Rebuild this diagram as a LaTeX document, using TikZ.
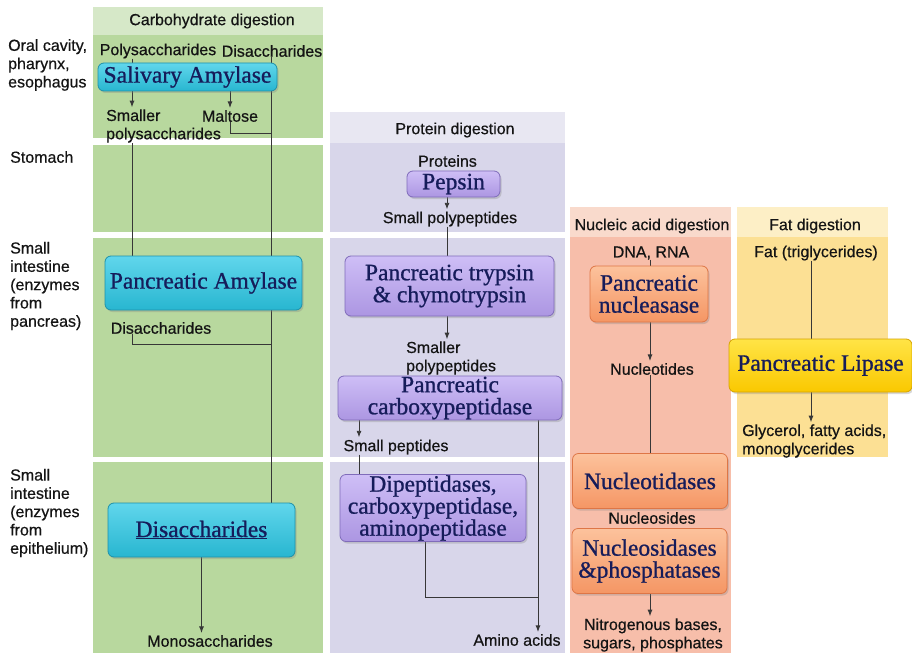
\documentclass[tikz,border=0pt]{standalone}
\usepackage{fontspec}
\setmainfont{Liberation Serif}
\setsansfont{Liberation Sans}[FakeBold=0.5]
\newfontfamily\enzfont{Liberation Serif}[FakeBold=0.9]
\usetikzlibrary{arrows.meta,positioning,calc,shadows}
\pgfdeclarelayer{bg}
\pgfdeclarelayer{ln}
\pgfsetlayers{bg,ln,main}
\definecolor{carbHd}{RGB}{214,232,200}
\definecolor{carbBd}{RGB}{184,216,158}
\definecolor{protHd}{RGB}{232,231,242}
\definecolor{protBd}{RGB}{216,214,234}
\definecolor{nuclHd}{RGB}{249,218,204}
\definecolor{nuclBd}{RGB}{247,190,170}
\definecolor{fatHd}{RGB}{253,239,198}
\definecolor{fatBd}{RGB}{252,224,148}
\definecolor{cyTop}{RGB}{96,214,236}
\definecolor{cyBot}{RGB}{40,182,208}
\definecolor{cyLn}{RGB}{30,145,170}
\definecolor{puTop}{RGB}{206,190,246}
\definecolor{puBot}{RGB}{172,150,226}
\definecolor{puLn}{RGB}{128,108,186}
\definecolor{orTop}{RGB}{252,194,156}
\definecolor{orBot}{RGB}{245,150,100}
\definecolor{orLn}{RGB}{222,118,70}
\definecolor{yeTop}{RGB}{255,228,70}
\definecolor{yeBot}{RGB}{250,200,0}
\definecolor{yeLn}{RGB}{214,164,0}
\definecolor{enzTxt}{RGB}{22,28,90}
\definecolor{lblTxt}{RGB}{20,20,20}
\definecolor{lnc}{RGB}{55,55,55}

\begin{document}
\begin{tikzpicture}[x=1pt,y=-1pt,
			lbl/.style={font=\sffamily\fontsize{16}{18.3}\selectfont,text=lblTxt,inner sep=0pt},
			enz/.style={rounded corners=6pt,line width=0.8pt,align=center,inner sep=0pt,
				font=\enzfont\fontsize{23.5}{22}\selectfont,text=enzTxt,
				drop shadow={shadow xshift=1.5pt,shadow yshift=-2pt,opacity=0.3}},
			carbenz/.style={enz,draw=cyLn,top color=cyTop,bottom color=cyBot},
			protenz/.style={enz,draw=puLn,top color=puTop,bottom color=puBot},
			nuclenz/.style={enz,draw=orLn,top color=orTop,bottom color=orBot},
			fatenz/.style={enz,draw=yeLn,top color=yeTop,bottom color=yeBot},
			flow/.style={draw=lnc,line width=0.9pt},
			flowto/.style={flow,-{Latex[length=6.5pt,width=5pt]},shorten >=2pt}]
		\useasboundingbox (0,0) rectangle (912,655);
		\begin{pgfonlayer}{bg}
			\fill [white] (0,0) rectangle (912,655);
			\fill [carbHd] (93,7) rectangle (323,35);
			\foreach \ya/\yb in {35/138,145/232,238/457,462/653}
				\fill [carbBd] (93,\ya) rectangle (323,\yb);
			\fill [protHd] (330,112) rectangle (565,143);
			\foreach \ya/\yb in {143/232,238/457,462/653}
				\fill [protBd] (330,\ya) rectangle (565,\yb);
			\fill [nuclHd] (570,207) rectangle (731,237);
			\fill [nuclBd] (570,237) rectangle (731,653);
			\fill [fatHd] (737,207) rectangle (888,237);
			\fill [fatBd] (737,237) rectangle (888,457);
		\end{pgfonlayer}
		\path 	(8,65) 	node 	(oral) [lbl, anchor=west, align=left] {Oral cavity,\\pharynx,\\esophagus}
		        (10,157) node 	(stom) [lbl, anchor=west] {Stomach}
		        (10,286) node 	(sipan) [lbl, anchor=west, align=left] {Small\\intestine\\(enzymes\\from\\pancreas)}
		        (10,513) node 	(siepi) [lbl, anchor=west, align=left] {Small\\intestine\\(enzymes\\from\\epithelium)};
		\path 	(212,21) 	node 	(chead) [lbl] {Carbohydrate digestion}
		        (158,51) 	node 	(poly) [lbl] {Polysaccharides}
		        (272,51) 	node 	(disT) [lbl] {Disaccharides}
		        (187.5,77) node 	(sal) [carbenz, minimum width=179pt, minimum height=28pt] {Salivary Amylase}
		        (106,126) 	node 	(smpoly) [lbl, anchor=west, align=left] {Smaller\\polysaccharides}
		        (230,116) 	node 	(malt) [lbl] {Maltose}
		        (203.5,283) node 	(pamy) [carbenz, minimum width=197pt, minimum height=54pt] {Pancreatic Amylase}
		        (161,328) 	node 	(dis2) [lbl] {Disaccharides}
		        (201.5,530) node 	(dbox) [carbenz, minimum width=187pt, minimum height=54pt] {\underline{Disaccharides}}
		        (210,641) 	node 	(mono) [lbl] {Monosaccharides};
		\path 	(455,130) 	node 	(phead) [lbl] {Protein digestion}
		        (447.5,161) node 	(prot) [lbl] {Proteins}
		        (453.5,184) node 	(pepsin) [protenz, minimum width=93pt, minimum height=26pt] {Pepsin}
		        (450,219) 	node 	(smpp) [lbl] {Small polypeptides}
		        (449.5,286) node 	(tryp) [protenz, minimum width=209pt, minimum height=60pt] {Pancreatic trypsin\\\& chymotrypsin}
		        (406,358) 	node 	(smpp2) [lbl, anchor=west, align=left] {Smaller\\polypeptides}
		        (450,398) 	node 	(carbx) [protenz, minimum width=224pt, minimum height=44pt] {Pancreatic\\carboxypeptidase}
		        (396,447) 	node 	(smpep) [lbl] {Small peptides}
		        (433,508) 	node 	(dipep) [protenz, minimum width=186pt, minimum height=67pt] {Dipeptidases,\\carboxypeptidase,\\aminopeptidase}
		        (517,640) 	node 	(amino) [lbl] {Amino acids};
		\path 	(652,226) 	node 	(nhead) [lbl] {Nucleic acid digestion}
		        (651,253) 	node 	(dna) [lbl] {DNA, RNA}
		        (649,294) 	node 	(nucl) [nuclenz, minimum width=118pt, minimum height=56pt] {Pancreatic\\nucleasase}
		        (652,369) 	node 	(ntides) [lbl] {Nucleotides}
		        (650,481) 	node 	(ntase) [nuclenz, minimum width=155pt, minimum height=55pt] {Nucleotidases}
		        (652,518) 	node 	(nsides) [lbl] {Nucleosides}
		        (649.5,561) node 	(nsase) [nuclenz, minimum width=155pt, minimum height=65pt] {Nucleosidases\\\&phosphatases}
		        (653,635) 	node 	(nitro) [lbl, align=center] {Nitrogenous bases,\\sugars, phosphates};
		\path 	(815,226) 	node 	(fhead) [lbl] {Fat digestion}
		        (816,253) 	node 	(fat) [lbl] {Fat (triglycerides)}
		        (820.5,365.5) node 	(lip) [fatenz, minimum width=183pt, minimum height=53pt] {Pancreatic Lipase}
		        (742,441) 	node 	(glyc) [lbl, anchor=west, align=left] {Glycerol, fatty acids,\\monoglycerides};
		\coordinate (cl) at (132,0);
		\coordinate (cr) at (271,0);
		\coordinate (pc) at (447,0);
		\coordinate (pl) at (359,0);
		\coordinate (pm) at (425,0);
		\coordinate (pr) at (538,0);
		\coordinate (nc) at (650,0);
		\coordinate (fc) at (811,0);
		\begin{pgfonlayer}{ln}
			\draw [flowto] (poly.south -| cl) -- (smpoly.north -| cl);
			\draw [flowto] (sal.south -| malt) -- (malt.north);
			\draw [flow] (disT.south -| cr) -- (dbox.north -| cr);
			\draw [flow] (malt.south) |- (cr |- 0,133);
			\draw [flow] (smpoly.south -| cl) -- (pamy.north -| cl);
			\draw [flow] (dis2.south -| cl) |- (cr |- 0,344);
			\draw [flowto] (dbox.south) -- (dbox.south |- mono.north);
			\draw [flowto] (pepsin.south -| pc) -- (smpp.north -| pc);
			\draw [flow] (smpp.south -| pc) -- (tryp.north -| pc);
			\draw [flowto] (tryp.south -| pc) -- (smpp2.north -| pc);
			\draw [flowto] (carbx.south -| pl) -- (smpep.north -| pl);
			\draw [flow] (smpep.south -| pl) -- (dipep.north -| pl);
			\draw [flowto] (carbx.south -| pr) -- (amino.north -| pr);
			\draw [flow] (dipep.south -| pm) |- (pr |- 0,597);
			\draw [flow] (dna.south -| nc) -- (nucl.north -| nc);
			\draw [flowto] (nucl.south -| nc) -- (ntides.north -| nc);
			\draw [flow] (ntides.south -| nc) -- (ntase.north -| nc);
			\draw [flowto] (nsase.south -| nc) -- (nitro.north -| nc);
			\draw [flow] (fat.south -| fc) -- (lip.north -| fc);
			\draw [flowto] (lip.south -| fc) -- (glyc.north -| fc);
		\end{pgfonlayer}
	\end{tikzpicture}
\end{document}
